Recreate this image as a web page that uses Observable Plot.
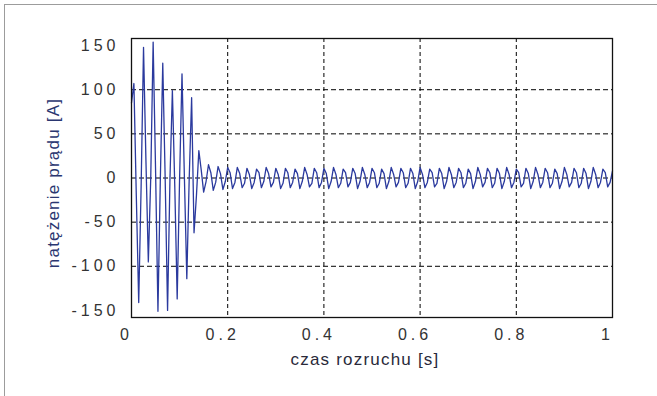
<!DOCTYPE html>
<html><head><meta charset="utf-8">
<script src="https://cdn.jsdelivr.net/npm/d3@7"></script>
<script src="https://cdn.jsdelivr.net/npm/@observablehq/plot@0.6"></script>
<style>
html,body{margin:0;padding:0;background:#fff;}
#wrap{position:relative;width:657px;height:396px;overflow:hidden;}
#border{position:absolute;left:4px;top:4px;width:700px;height:500px;border-top:1.5px solid #9c9c9c;border-left:1.5px solid #9c9c9c;pointer-events:none;}
#chart svg{display:block;}
g[aria-label="y-axis tick label"] text, g[aria-label="x-axis tick label"] text{letter-spacing:4px;}
</style></head>
<body><div id="wrap"><div id="chart"></div><div id="border"></div></div>
<script>
// sampled current [A], one sample every 5 ms from t = 0 s to t = 1 s
const sampleStep = 0.005;
const current = [
  85, 107, -20, -141, -10, 148, 20, -95, 0, 154,
  10, -151, 0, 130, 0, -150, 0, 99, -10, -137,
  0, 118, 0, -114, 0, 91, -62, -20, 31,
  9, -16, -4, 15,   6, -14, -5, 13,   5, -13, -4, 12,   6, -12, -5, 12,
  5, -11, -6, 11,   4, -12, -5, 10,   6, -11, -4, 12,   5, -10, -5, 11,
  4, -12, -6, 11,   6, -11, -5, 10,   5, -12, -4, 12,   4, -10, -6, 11,
  6, -11, -5, 11,   5, -12, -4, 12,   4, -11, -6, 10,   6, -10, -5, 11,
  5, -12, -4, 12,   4, -11, -5, 11,   6, -11, -6, 10,   5, -12, -4, 12,
  4, -10, -5, 11,   6, -11, -6, 11,   5, -12, -4, 12,   4, -11, -5, 10,
  6, -10, -6, 11,   5, -12, -4, 12,   4, -11, -5, 11,   6, -11, -6, 10,
  5, -12, -4, 12,   4, -10, -5, 11,   6, -11, -6, 11,   5, -12, -4, 12,
  4, -11, -5, 10,   6, -10, -6, 11,   5, -12, -4, 12,   4, -11, -5, 11,
  6, -11, -6, 10,   5, -12, -4, 12,   4, -10, -5, 11,   6, -11, -6, 11,
  5, -12, -4, 12,   4, -11, -5, 10,   6, -10, -5, 8
];
const xTicks = [0, 0.2, 0.4, 0.6, 0.8, 1];
const yTicks = [-150, -100, -50, 0, 50, 100, 150];
const xGrid = [0.2, 0.4, 0.6, 0.8];
const yGrid = [-100, -50, 0, 50, 100];
const xLabel = "czas rozruchu [s]";
const yLabel = "natężenie prądu [A]";

const signal = current.map((v, k) => ({t: k * sampleStep, i: v}));

const font = "'Liberation Sans', Arial, sans-serif";
const chart = Plot.plot({
  width: 657, height: 396,
  marginLeft: 131, marginRight: 45, marginTop: 38, marginBottom: 79,
  style: {fontFamily: font, fontSize: "16px", color: "#333", background: "transparent"},
  x: {domain: [0, 1]},
  y: {domain: [-158, 158]},
  marks: [
    Plot.ruleX(xGrid, {stroke: "#000", strokeWidth: 1, strokeDasharray: "4,3"}),
    Plot.ruleY(yGrid, {stroke: "#000", strokeWidth: 1, strokeDasharray: "5,3"}),
    Plot.line(signal, {x: "t", y: "i", stroke: "#2b3a9e", strokeWidth: 1.3}),
    Plot.frame({stroke: "#111", strokeWidth: 1.3}),
    Plot.axisX({ticks: xTicks, tickFormat: d => String(d), tickSize: 0, tickPadding: 11, dx: -5, label: null}),
    Plot.axisY({ticks: yTicks, tickFormat: d => String(d), tickSize: 0, tickPadding: 12, label: null}),
    Plot.text([xLabel], {text: d => d, frameAnchor: "bottom", dy: 42, dx: -7, fontSize: 17, fill: "#2a2a3a", lineAnchor: "middle", textAnchor: "middle"}),
    Plot.text([yLabel], {text: d => d, frameAnchor: "left", rotate: -90, dx: -78, dy: 5, fontSize: 17, fill: "#2a3670", lineAnchor: "middle", textAnchor: "middle"})
  ]
});
document.getElementById("chart").appendChild(chart);
document.querySelectorAll('g[aria-label="text"] text').forEach(t => t.style.letterSpacing = "1.2px");
</script>
</body></html>
